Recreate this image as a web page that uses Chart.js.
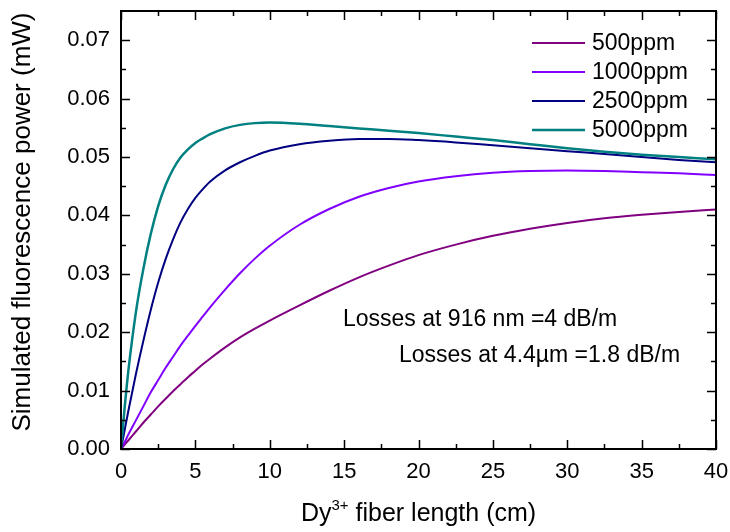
<!DOCTYPE html>
<html>
<head>
<meta charset="utf-8">
<script src="https://cdn.jsdelivr.net/npm/chart.js@4.4.1/dist/chart.umd.min.js"></script>
<style>
html,body{margin:0;padding:0;background:#fff;}
#wrap{width:730px;height:532px;}
</style>
</head>
<body>
<div id="wrap"><canvas id="c" width="730" height="532"></canvas></div>
<script>
// ---- data ----
const fiberLength = [0,0.25,0.5,1,1.5,2,2.5,3,3.5,4,4.5,5,5.5,6,7,8,9,10,12,14,16,18,20,22.5,25,27.5,30,32.5,35,37.5,40];
const ppm500  = [0,0.00075,0.0015,0.0030,0.0045,0.0059,0.0073,0.0086,0.0099,0.0111,0.0123,0.0134,0.0145,0.0155,0.0174,0.0191,0.0206,0.0220,0.0246,0.0271,0.0294,0.0314,0.0332,0.0350,0.0365,0.0377,0.0387,0.0395,0.0401,0.0406,0.0410];
const ppm1000 = [0,0.0012,0.0025,0.0049,0.0073,0.0097,0.0118,0.0139,0.0158,0.0177,0.0194,0.0211,0.0227,0.0243,0.0273,0.0301,0.0326,0.0348,0.0384,0.0411,0.0432,0.0447,0.0458,0.0467,0.0473,0.0476,0.0477,0.0476,0.0474,0.0472,0.0469];
const ppm2500 = [0,0.0033,0.0066,0.0128,0.0185,0.0238,0.0285,0.0325,0.0359,0.0388,0.0411,0.0430,0.0445,0.0458,0.0477,0.0491,0.0502,0.0511,0.0522,0.0528,0.0531,0.0531,0.0529,0.0525,0.0520,0.0515,0.0510,0.0505,0.0500,0.0495,0.0491];
const ppm5000 = [0,0.0072,0.0135,0.0234,0.0308,0.0368,0.0416,0.0452,0.0479,0.0499,0.0513,0.0524,0.0532,0.0539,0.0549,0.0555,0.0558,0.0559,0.0557,0.0553,0.0549,0.0545,0.0541,0.0535,0.0529,0.0522,0.0515,0.0509,0.0504,0.0500,0.0496];
const seriesLabels = ['500ppm','1000ppm','2500ppm','5000ppm'];
const seriesColors = ['#800080','#8000ff','#000080','#008080'];
const xTicks = [0,5,10,15,20,25,30,35,40];
const yTicks = [0,0.01,0.02,0.03,0.04,0.05,0.06,0.07];
const notes = ['Losses at 916 nm =4 dB/m','Losses at 4.4\u00b5m =1.8 dB/m'];

const FONT = '"Liberation Sans", Arial, sans-serif';

function pts(arr){ return fiberLength.map((x,i)=>({x:x, y:arr[i]})); }
const allSeries = [ppm500, ppm1000, ppm2500, ppm5000];

const framePlugin = {
  id:'frame',
  afterDraw(chart){
    const {ctx, chartArea:a, scales} = chart;
    const xs = scales.x, ys = scales.y;
    ctx.save();
    ctx.strokeStyle = '#000';
    ctx.lineWidth = 2;
    ctx.strokeRect(a.left, a.top, a.right - a.left, a.bottom - a.top);
    ctx.lineWidth = 1.5;
    const maj = 9, mnr = 5;
    ctx.beginPath();
    for (let i = 0; i < xTicks.length; i++){
      const px = Math.round(xs.getPixelForValue(xTicks[i])) + 0.5;
      ctx.moveTo(px, a.bottom); ctx.lineTo(px, a.bottom - maj);
      ctx.moveTo(px, a.top); ctx.lineTo(px, a.top + maj);
      if (i < xTicks.length - 1){
        const pm = Math.round(xs.getPixelForValue((xTicks[i] + xTicks[i+1]) / 2)) + 0.5;
        ctx.moveTo(pm, a.bottom); ctx.lineTo(pm, a.bottom - mnr);
        ctx.moveTo(pm, a.top); ctx.lineTo(pm, a.top + mnr);
      }
    }
    const yStep = yTicks[1] - yTicks[0];
    const yAll = yTicks.concat([yTicks[yTicks.length-1] + yStep]);
    for (let i = 0; i < yAll.length; i++){
      const v = yAll[i];
      if (v <= ys.max){
        const py = Math.round(ys.getPixelForValue(v)) + 0.5;
        ctx.moveTo(a.left, py); ctx.lineTo(a.left + maj, py);
        ctx.moveTo(a.right, py); ctx.lineTo(a.right - maj, py);
      }
      const vm = v + yStep / 2;
      if (vm < ys.max){
        const pm = Math.round(ys.getPixelForValue(vm)) + 0.5;
        ctx.moveTo(a.left, pm); ctx.lineTo(a.left + mnr, pm);
        ctx.moveTo(a.right, pm); ctx.lineTo(a.right - mnr, pm);
      }
    }
    ctx.stroke();

    // legend
    ctx.font = '23px ' + FONT;
    ctx.textBaseline = 'middle';
    ctx.textAlign = 'left';
    chart.data.datasets.forEach((ds, i) => {
      const ly = 43 + i * 29;
      ctx.strokeStyle = ds.borderColor;
      ctx.lineWidth = ds.borderWidth;
      ctx.beginPath(); ctx.moveTo(532, ly); ctx.lineTo(585, ly); ctx.stroke();
      ctx.fillStyle = '#000';
      ctx.fillText(ds.label, 592, ly + 1);
    });

    // annotations
    ctx.textBaseline = 'alphabetic';
    ctx.fillStyle = '#000';
    ctx.font = '23px ' + FONT;
    ctx.fillText(notes[0], 343, 326);
    ctx.fillText(notes[1], 399, 362);

    // x title with superscript
    const cx = (a.left + a.right) / 2;
    const base = 521;
    ctx.font = '25px ' + FONT;
    const t1 = 'Dy', t3 = ' fiber length (cm)';
    const supFont = '15px ' + FONT;
    const w1 = ctx.measureText(t1).width, w3 = ctx.measureText(t3).width;
    ctx.font = supFont;
    const w2 = ctx.measureText('3+').width;
    let sx = cx - (w1 + w2 + w3) / 2;
    ctx.font = '25px ' + FONT;
    ctx.fillText(t1, sx, base);
    ctx.font = supFont;
    ctx.fillText('3+', sx + w1, base - 11);
    ctx.font = '25px ' + FONT;
    ctx.fillText(t3, sx + w1 + w2, base);

    // y title
    ctx.save();
    ctx.translate(23, (a.top + a.bottom) / 2 - 8);
    ctx.rotate(-Math.PI / 2);
    ctx.textAlign = 'center';
    ctx.textBaseline = 'middle';
    ctx.font = '26px ' + FONT;
    ctx.fillText('Simulated fluorescence power (mW)', 0, 0);
    ctx.restore();

    ctx.restore();
  }
};

function zeroPad(s){ s.paddingTop = 0; s.paddingBottom = 0; s.paddingLeft = 0; s.paddingRight = 0; }

new Chart(document.getElementById('c'), {
  type: 'line',
  data: {
    datasets: allSeries.map((arr, i) => ({
      label: seriesLabels[i],
      data: pts(arr),
      borderColor: seriesColors[i],
      backgroundColor: seriesColors[i],
      borderWidth: i === 3 ? 2.5 : 2,
      pointRadius: 0,
      fill: false,
      cubicInterpolationMode: 'monotone',
      order: 4 - i
    }))
  },
  options: {
    responsive: false,
    animation: false,
    devicePixelRatio: 1,
    layout: { padding: { top: 11, right: 14, left: 0, bottom: 0 } },
    plugins: { legend: { display: false }, tooltip: { enabled: false }, title: { display: false } },
    scales: {
      x: {
        type: 'linear', min: 0, max: 40,
        grid: { display: false, drawTicks: false },
        border: { display: false },
        afterBuildTicks: s => { s.ticks = xTicks.map(v => ({ value: v })); },
        afterFit: s => { s.height = 83; zeroPad(s); },
        ticks: { padding: 10, color: '#000', font: { family: FONT, size: 22 }, maxRotation: 0,
                 callback: v => String(v) }
      },
      y: {
        type: 'linear', min: 0, max: 0.075,
        grid: { display: false, drawTicks: false },
        border: { display: false },
        afterBuildTicks: s => { s.ticks = yTicks.map(v => ({ value: v })); },
        afterFit: s => { s.width = 121; zeroPad(s); },
        ticks: { padding: 11, color: '#000', font: { family: FONT, size: 22 },
                 callback: v => Number(v).toFixed(2) }
      }
    }
  },
  plugins: [framePlugin]
});
</script>
</body>
</html>
